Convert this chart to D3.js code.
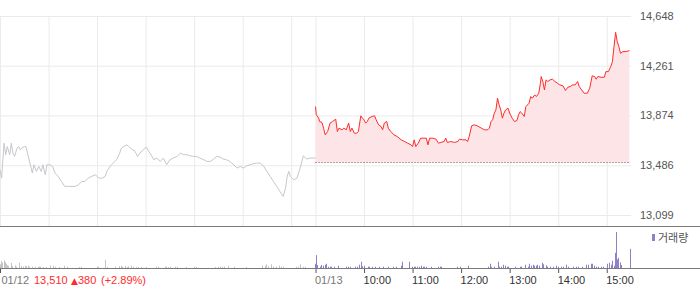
<!DOCTYPE html>
<html>
<head>
<meta charset="utf-8">
<script src="https://cdn.jsdelivr.net/npm/d3@7"></script>
<style>
  body { margin: 0; background: #fff; }
  svg { display: block; font-family: "Liberation Sans", Arial, sans-serif; }
  .grid line { stroke: #ebebeb; }
  .grid path { display: none; }
  .axis path { display: none; }
  .axis text { font-size: 11px; }
</style>
</head>
<body>
<svg id="chart"></svg>
<script>
// minutes after 09:00 on each day, price
const prevDay = [
  [0,13451],[2,13386],[5,13658],[7,13568],[9,13632],[12,13568],[14,13658],[16,13581],[18,13555],
  [21,13619],[23,13632],[25,13607],[27,13619],[30,13632],[32,13632],[35,13555],[38,13477],[40,13425],
  [42,13490],[45,13438],[48,13477],[51,13438],[53,13490],[56,13412],[58,13490],[62,13490],[65,13477],
  [68,13425],[72,13399],[76,13360],[80,13322],[85,13322],[89,13322],[93,13322],[97,13334],[101,13360],
  [105,13360],[109,13386],[113,13399],[118,13412],[122,13386],[126,13386],[130,13399],[132,13438],
  [136,13477],[140,13503],[144,13529],[148,13581],[150,13619],[153,13632],[157,13645],[159,13632],
  [163,13612],[167,13594],[170,13555],[173,13581],[177,13607],[181,13627],[184,13594],[188,13555],
  [190,13529],[194,13542],[198,13516],[202,13542],[206,13490],[210,13529],[214,13542],[219,13555],
  [223,13581],[227,13568],[231,13568],[235,13560],[239,13555],[243,13555],[247,13542],[252,13529],
  [256,13516],[260,13516],[264,13534],[268,13555],[272,13550],[276,13534],[280,13529],[284,13516],
  [289,13490],[293,13464],[297,13477],[301,13464],[305,13482],[309,13490],[313,13498],[317,13503],
  [322,13503],[326,13477],[330,13438],[334,13399],[338,13360],[342,13322],[346,13283],[350,13244],
  [353,13309],[355,13399],[357,13438],[359,13399],[363,13373],[367,13386],[371,13464],[375,13560],
  [379,13534],[383,13542],[388,13542],[390,13542]
];

const today = [
  [0,13943],[1,13879],[4,13853],[5,13827],[8,13819],[10,13775],[12,13723],[15,13749],[18,13814],
  [21,13827],[25,13845],[27,13749],[29,13775],[33,13762],[35,13775],[38,13762],[41,13814],[43,13749],
  [45,13775],[48,13736],[51,13736],[53,13749],[56,13871],[58,13853],[60,13840],[62,13814],[64,13827],
  [66,13853],[70,13866],[73,13871],[75,13840],[78,13801],[81,13788],[83,13762],[85,13814],[88,13827],
  [90,13775],[93,13749],[97,13723],[101,13710],[106,13684],[110,13671],[114,13658],[118,13645],
  [120,13632],[122,13684],[124,13632],[127,13658],[130,13697],[133,13697],[137,13697],[139,13645],
  [141,13697],[145,13697],[149,13689],[152,13658],[155,13664],[159,13671],[161,13697],[163,13664],
  [167,13671],[172,13664],[176,13671],[178,13689],[182,13684],[186,13684],[188,13671],[190,13710],
  [193,13793],[196,13801],[200,13793],[205,13775],[209,13762],[213,13762],[215,13775],[217,13827],
  [219,13840],[221,13892],[223,13917],[225,14008],[227,13956],[229,13917],[231,13853],[233,13892],
  [235,13917],[238,13930],[240,13892],[243,13853],[246,13827],[249,13834],[251,13879],[253,13904],
  [255,13892],[258,13866],[260,13943],[264,13969],[266,14021],[268,14008],[271,14034],[273,14021],
  [276,14047],[278,14125],[279,14177],[281,14138],[283,14073],[285,14151],[287,14138],[290,14151],
  [293,14156],[296,14138],[299,14125],[302,14112],[306,14104],[309,14068],[312,14094],[315,14099],
  [318,14112],[321,14112],[324,14138],[326,14099],[329,14073],[332,14047],[336,14047],[339,14086],
  [342,14182],[345,14177],[347,14156],[349,14177],[353,14171],[357,14171],[359,14215],[362,14215],
  [365,14254],[367,14293],[369,14410],[371,14521],[373,14449],[375,14410],[377,14358],[380,14371],
  [384,14371],[388,14379]
];

// volume bars: minute, volume
const prevDayVolume = [
  [1,37],[2,70],[3,53],[5,77],[6,70],[7,60],[8,43],[9,27],[11,23],[14,50],[15,20],[16,20],[19,27],
  [21,13],[24,53],[26,17],[27,20],[29,13],[31,23],[33,17],[35,23],[37,13],[40,13],[44,13],[47,13],
  [49,13],[50,13],[54,10],[58,10],[63,23],[66,23],[68,13],[74,10],[80,23],[84,13],[98,10],[101,13],
  [120,13],[122,13],[130,83],[133,10],[143,13],[148,20],[150,23],[152,13],[155,20],[157,10],[159,17],
  [162,23],[163,13],[165,13],[169,10],[171,10],[175,10],[181,10],[194,13],[196,13],[204,13],[206,13],
  [208,10],[211,13],[217,13],[219,13],[231,10],[241,13],[243,10],[266,10],[270,13],[272,13],[275,13],
  [278,13],[283,23],[290,13],[305,10],[325,23],[328,23],[330,37],[332,17],[336,37],[338,17],[342,13],
  [345,23],[348,13],[350,13],[367,13],[369,13],[372,37],[375,13],[378,13]
];

const todayVolume = [
  [0,43],[1,130],[3,30],[6,13],[8,30],[10,23],[12,33],[13,43],[16,13],[18,13],[20,13],[24,13],[29,23],
  [38,13],[41,13],[43,13],[49,13],[52,13],[54,33],[57,63],[58,17],[60,23],[65,13],[67,13],[71,13],
  [74,13],[79,13],[84,13],[90,13],[96,13],[100,13],[106,23],[107,63],[116,63],[120,13],[122,13],
  [124,13],[126,13],[129,13],[131,23],[133,13],[135,13],[137,13],[144,13],[152,13],[154,13],[156,13],
  [176,13],[179,13],[189,23],[214,13],[216,43],[218,13],[221,13],[226,63],[228,13],[230,13],[233,33],
  [235,23],[237,13],[239,13],[247,13],[253,13],[255,13],[260,33],[263,13],[265,43],[267,23],[269,33],
  [271,23],[273,23],[275,33],[277,23],[280,43],[281,53],[282,37],[285,27],[287,13],[290,13],[294,13],
  [298,23],[300,13],[304,13],[306,13],[310,33],[313,13],[319,13],[323,13],[325,13],[330,13],[335,33],
  [337,33],[341,43],[343,43],[345,23],[347,13],[350,13],[353,13],[356,13],[361,43],[364,53],[366,33],
  [367,73],[369,23],[371,153],[372,363],[373,87],[374,103],[375,63],[377,57],[378,30],[389,193]
];

const prevClose = 13510;
const priceTicks = [13099, 13486, 13874, 14261, 14648];
const prevDayLabel = '01/12';
const todayLabel = '01/13';
const hourLabels = ['10:00', '11:00', '12:00', '13:00', '14:00', '15:00'];
const changeText = ['13,510', '\u25B2', '380', '(+2.89%)'];
const volumeLegend = '거래량';

class IntradayChart {

  constructor(_config) {
    this.config = {
      parentElement: _config.parentElement,
      containerWidth: 700,
      containerHeight: 289,
      plotRight: 631,
      priceTop: 16,
      priceBottom: 215,
      panelBottom: 226,
      volBase: 268,
      volTop: 232
    };
    this.initVis();
  }

  initVis() {
    let vis = this;
    const c = vis.config;

    vis.svg = d3.select(c.parentElement)
      .attr('width', c.containerWidth)
      .attr('height', c.containerHeight);

    // two trading days of 390 minutes side by side
    vis.xScale = d3.scaleLinear().domain([0, 780]).range([0, c.plotRight]);
    vis.yScale = d3.scaleLinear().domain([priceTicks[0], priceTicks[4]]).range([c.priceBottom, c.priceTop]);
    vis.vScale = d3.scaleLinear()
      .domain([0, d3.max(todayVolume.concat(prevDayVolume), d => d[1])])
      .range([c.volBase, c.volTop]);

    vis.hourTicks = [60, 120, 180, 240, 300, 360, 390, 450, 510, 570, 630, 690, 750];

    vis.renderVis();
  }

  renderVis() {
    let vis = this;
    const c = vis.config;

    // grid
    vis.svg.append('g')
      .attr('class', 'grid')
      .call(d3.axisRight(vis.yScale).tickValues(priceTicks).tickSize(c.plotRight).tickFormat(''));

    vis.svg.append('g')
      .attr('class', 'grid')
      .attr('transform', `translate(0,${c.panelBottom})`)
      .call(d3.axisBottom(vis.xScale).tickValues([0].concat(vis.hourTicks))
        .tickSize(-(c.panelBottom - c.priceTop)).tickFormat(''));

    // today's fill above previous close
    const area = d3.area()
      .x(d => vis.xScale(390 + d[0]))
      .y0(vis.yScale(prevClose))
      .y1(d => vis.yScale(d[1]));

    vis.svg.append('path')
      .datum(today)
      .attr('fill', '#fde5e7')
      .attr('d', area);

    vis.svg.append('line')
      .attr('x1', vis.xScale(390))
      .attr('x2', vis.xScale(390 + today[today.length - 1][0]))
      .attr('y1', Math.round(vis.yScale(prevClose)) + 0.5)
      .attr('y2', Math.round(vis.yScale(prevClose)) + 0.5)
      .attr('stroke', '#555')
      .attr('stroke-dasharray', '1,2');

    vis.svg.append('path')
      .datum(prevDay)
      .attr('fill', 'none')
      .attr('stroke', '#c6c7cc')
      .attr('stroke-width', 1)
      .attr('d', d3.line().x(d => vis.xScale(d[0])).y(d => vis.yScale(d[1])));

    vis.svg.append('path')
      .datum(today)
      .attr('fill', 'none')
      .attr('stroke', '#ff2b2b')
      .attr('stroke-width', 1)
      .attr('d', d3.line().x(d => vis.xScale(390 + d[0])).y(d => vis.yScale(d[1])));

    // price labels
    vis.svg.append('g')
      .attr('class', 'axis')
      .attr('transform', `translate(${c.plotRight},0)`)
      .call(d3.axisRight(vis.yScale).tickValues(priceTicks).tickSize(0).tickPadding(9)
        .tickFormat(d3.format(',')))
      .selectAll('text')
      .attr('fill', '#555');

    // panel separator
    vis.svg.append('line')
      .attr('x1', 0).attr('x2', c.containerWidth)
      .attr('y1', c.panelBottom + 0.5).attr('y2', c.panelBottom + 0.5)
      .attr('stroke', '#7a7a7a');

    // volume
    vis.svg.append('g').selectAll('rect')
      .data(prevDayVolume)
      .join('rect')
      .attr('x', d => Math.floor(vis.xScale(d[0])))
      .attr('width', 1)
      .attr('y', d => vis.vScale(d[1]))
      .attr('height', d => c.volBase - vis.vScale(d[1]))
      .attr('fill', '#c4c4c4');

    vis.svg.append('g').selectAll('rect')
      .data(todayVolume)
      .join('rect')
      .attr('x', d => Math.floor(vis.xScale(390 + d[0])))
      .attr('width', 1)
      .attr('y', d => vis.vScale(d[1]))
      .attr('height', d => c.volBase - vis.vScale(d[1]))
      .attr('fill', '#9180c6');

    vis.svg.append('rect')
      .attr('x', 652).attr('y', 234).attr('width', 3).attr('height', 7)
      .attr('fill', '#9180c6');
    vis.svg.append('text')
      .attr('x', 658).attr('y', 238)
      .attr('dy', '0.35em')
      .attr('font-family', '"Noto Sans CJK KR", sans-serif')
      .attr('font-size', 11)
      .attr('fill', '#555')
      .text(volumeLegend);

    // time axis
    const xTicks = [0, 390, 450, 510, 570, 630, 690, 750];
    const xLabels = [prevDayLabel, todayLabel].concat(hourLabels);
    const xAxis = vis.svg.append('g')
      .attr('class', 'axis')
      .attr('transform', `translate(0,${c.volBase})`)
      .call(d3.axisBottom(vis.xScale).tickValues(xTicks).tickSize(5).tickPadding(3)
        .tickFormat((d, i) => xLabels[i]));

    xAxis.selectAll('line').attr('stroke', '#555');
    xAxis.selectAll('text')
      .attr('text-anchor', 'start')
      .attr('dx', (d, i) => i === 0 ? 1 : -1)
      .attr('fill', (d, i) => i < 2 ? '#777' : '#333');

    vis.svg.append('line')
      .attr('x1', 0).attr('x2', c.containerWidth)
      .attr('y1', c.volBase + 0.5).attr('y2', c.volBase + 0.5)
      .attr('stroke', '#7a7a7a');

    // previous day close and change
    const change = vis.svg.append('g')
      .attr('font-size', 11)
      .attr('fill', '#ff2b2b');
    const changeX = [34, 71, 78, 101];
    change.selectAll('text')
      .data(changeText)
      .join('text')
      .attr('x', (d, i) => changeX[i])
      .attr('y', c.volBase + 16)
      .attr('font-size', (d, i) => i === 1 ? 9 : 11)
      .attr('font-family', (d, i) => i === 1 ? '"DejaVu Sans", sans-serif' : null)
      .text(d => d);
  }
}

new IntradayChart({ parentElement: '#chart' });
</script>
</body>
</html>
